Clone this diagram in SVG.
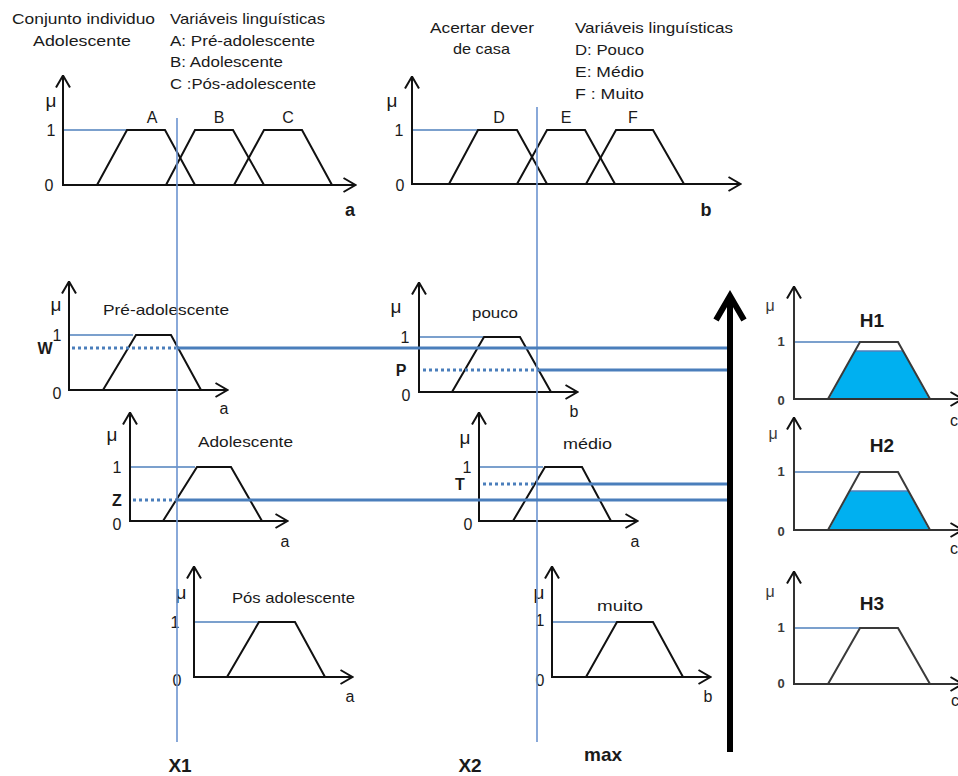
<svg xmlns="http://www.w3.org/2000/svg" width="958" height="776" viewBox="0 0 958 776">
  <style>
    text { font-family: "Liberation Sans", Arial, sans-serif; fill: #1a1a1a; }
    .ttl { font-size: 15px; }
    .tick { font-size: 16px; text-anchor: middle; }
    .mu { font-size: 19px; text-anchor: middle; }
    .bold { font-weight: bold; }
    .big { font-size: 18px; }
    .xl { font-size: 19px; }
    .hlbl { font-size: 13px; font-weight: bold; fill: #3a3a3a; text-anchor: middle; }
    .hmu { font-size: 16px; fill: #3a3a3a; text-anchor: middle; }
    .htl { font-size: 19px; font-weight: bold; text-anchor: middle; }
    .axis { fill: none; stroke: #111; stroke-width: 2; marker-start: url(#arrS); marker-end: url(#arrE); }
    .haxis { fill: none; stroke: #333; stroke-width: 2; marker-start: url(#arrS); marker-end: url(#arrE); }
    .trap { fill: none; stroke: #111; stroke-width: 2; stroke-linejoin: miter; }
    .htrap { fill: none; stroke: #3a3a3a; stroke-width: 2; }
    .one { stroke: #4F81BD; stroke-width: 1.6; }
    .xline { stroke: #6B93D0; stroke-width: 1.6; }
    .cut { stroke: #4A7EBB; stroke-width: 3; }
    .dot { stroke: #4A7EBB; stroke-width: 3; stroke-dasharray: 3 3; }
    .fill { fill: #00B0F0; stroke: none; }
    .ftop { stroke: #4F81BD; stroke-width: 1.6; }
  </style>
  <defs>
    <marker id="arrE" viewBox="0 0 14 16" refX="12.5" refY="8" markerWidth="14" markerHeight="16" markerUnits="userSpaceOnUse" orient="auto">
      <path d="M1,1 L13,8 L1,15" fill="none" stroke="#111" stroke-width="2"/>
    </marker>
    <marker id="arrS" viewBox="0 0 14 16" refX="12.5" refY="8" markerWidth="14" markerHeight="16" markerUnits="userSpaceOnUse" orient="auto-start-reverse">
      <path d="M1,1 L13,8 L1,15" fill="none" stroke="#111" stroke-width="2"/>
    </marker>
  </defs>
  <rect width="958" height="776" fill="#fff"/>

  <!-- header texts -->
  <g id="header-a">
    <text class="ttl" x="12" y="24" textLength="143" lengthAdjust="spacingAndGlyphs">Conjunto individuo</text>
    <text class="ttl" x="33" y="46" textLength="98" lengthAdjust="spacingAndGlyphs">Adolescente</text>
    <text class="ttl" x="170" y="24" textLength="155" lengthAdjust="spacingAndGlyphs">Variáveis linguísticas</text>
    <text class="ttl" x="170" y="46" textLength="145" lengthAdjust="spacingAndGlyphs">A: Pré-adolescente</text>
    <text class="ttl" x="170" y="67" textLength="113" lengthAdjust="spacingAndGlyphs">B: Adolescente</text>
    <text class="ttl" x="170" y="89" textLength="146" lengthAdjust="spacingAndGlyphs">C :Pós-adolescente</text>
  </g>
  <g id="header-b">
    <text class="ttl" x="430" y="33" textLength="104" lengthAdjust="spacingAndGlyphs">Acertar dever</text>
    <text class="ttl" x="453" y="54" textLength="57" lengthAdjust="spacingAndGlyphs">de casa</text>
    <text class="ttl" x="575" y="33" textLength="158" lengthAdjust="spacingAndGlyphs">Variáveis linguísticas</text>
    <text class="ttl" x="575" y="55" textLength="69" lengthAdjust="spacingAndGlyphs">D: Pouco</text>
    <text class="ttl" x="575" y="77" textLength="69" lengthAdjust="spacingAndGlyphs">E: Médio</text>
    <text class="ttl" x="575" y="99" textLength="69" lengthAdjust="spacingAndGlyphs">F : Muito</text>
  </g>

  <!-- overview chart: age -->
  <g id="chart-a">
    <line class="one" x1="63" y1="130" x2="127" y2="130"/>
    <path class="trap" d="M97,185 L127,130 L165,130 L195,185"/>
    <path class="trap" d="M166,185 L195,130 L233,130 L264,185"/>
    <path class="trap" d="M234,185 L264,130 L302,130 L332,185"/>
    <path class="axis" d="M63,76 L63,185 L355,185"/>
    <text class="mu" x="51" y="107">μ</text>
    <text class="tick" x="51" y="136">1</text>
    <text class="tick" x="49" y="191">0</text>
    <text class="tick" x="152" y="123">A</text>
    <text class="tick" x="219" y="123">B</text>
    <text class="tick" x="288" y="123">C</text>
    <text class="tick bold big" x="350" y="216">a</text>
  </g>

  <!-- overview chart: homework -->
  <g id="chart-b">
    <line class="one" x1="412" y1="130" x2="478" y2="130"/>
    <path class="trap" d="M449,184 L478,130 L517,130 L547,184"/>
    <path class="trap" d="M517,184 L547,130 L585,130 L615,184"/>
    <path class="trap" d="M586,184 L616,130 L653,130 L684,184"/>
    <path class="axis" d="M412,77 L412,184 L740,184"/>
    <text class="mu" x="392" y="107">μ</text>
    <text class="tick" x="399" y="136">1</text>
    <text class="tick" x="400" y="191">0</text>
    <text class="tick" x="499" y="123">D</text>
    <text class="tick" x="566" y="123">E</text>
    <text class="tick" x="633" y="123">F</text>
    <text class="tick bold big" x="706" y="216">b</text>
  </g>

  <!-- rule 1 -->
  <g id="pre-adolescente">
    <line class="one" x1="69" y1="335" x2="133" y2="335"/>
    <path class="trap" d="M103,390 L136,335 L171,335 L201,390"/>
    <path class="axis" d="M69,282 L69,390 L227,390"/>
    <text class="mu" x="56" y="311">μ</text>
    <text class="tick" x="57" y="341">1</text>
    <text class="tick bold" x="45" y="354">W</text>
    <text class="tick" x="57" y="399">0</text>
    <text class="ttl" x="103" y="315" textLength="126" lengthAdjust="spacingAndGlyphs">Pré-adolescente</text>
    <text class="tick" x="224" y="414">a</text>
  </g>
  <g id="pouco">
    <line class="one" x1="419" y1="337" x2="483" y2="337"/>
    <path class="trap" d="M452,392 L484,337 L520,337 L551,392"/>
    <path class="axis" d="M419,283 L419,392 L577,392"/>
    <text class="mu" x="396" y="313">μ</text>
    <text class="tick" x="405" y="343">1</text>
    <text class="tick bold" x="401" y="376">P</text>
    <text class="tick" x="406" y="401">0</text>
    <text class="ttl" x="472" y="318" textLength="46" lengthAdjust="spacingAndGlyphs">pouco</text>
    <text class="tick" x="574" y="417">b</text>
  </g>

  <!-- rule 2 -->
  <g id="adolescente">
    <line class="one" x1="130" y1="467" x2="195" y2="467"/>
    <path class="trap" d="M163,521 L197,467 L231,467 L262,521"/>
    <path class="axis" d="M130,413 L130,521 L287,521"/>
    <text class="mu" x="112" y="441">μ</text>
    <text class="tick" x="117" y="473">1</text>
    <text class="tick bold" x="117" y="506">Z</text>
    <text class="tick" x="117" y="530">0</text>
    <text class="ttl" x="198" y="447" textLength="95" lengthAdjust="spacingAndGlyphs">Adolescente</text>
    <text class="tick" x="285" y="547">a</text>
  </g>
  <g id="medio">
    <line class="one" x1="479" y1="467" x2="543" y2="467"/>
    <path class="trap" d="M513,521 L545,467 L582,467 L611,521"/>
    <path class="axis" d="M479,413 L479,521 L637,521"/>
    <text class="mu" x="465" y="444">μ</text>
    <text class="tick" x="467" y="473">1</text>
    <text class="tick bold" x="460" y="490">T</text>
    <text class="tick" x="468" y="530">0</text>
    <text class="ttl" x="563" y="449" textLength="49" lengthAdjust="spacingAndGlyphs">médio</text>
    <text class="tick" x="635" y="547">a</text>
  </g>

  <!-- rule 3 -->
  <g id="pos-adolescente">
    <line class="one" x1="194" y1="622" x2="259" y2="622"/>
    <path class="trap" d="M227,677 L259,622 L295,622 L325,677"/>
    <path class="axis" d="M194,567 L194,677 L352,677"/>
    <text class="mu" x="181" y="599">μ</text>
    <text class="tick" x="175" y="628">1</text>
    <text class="tick" x="177" y="686">0</text>
    <text class="ttl" x="232" y="603" textLength="123" lengthAdjust="spacingAndGlyphs">Pós adolescente</text>
    <text class="tick" x="350" y="702">a</text>
  </g>
  <g id="muito">
    <line class="one" x1="552" y1="622" x2="617" y2="622"/>
    <path class="trap" d="M586,677 L617,622 L653,622 L683,677"/>
    <path class="axis" d="M552,567 L552,677 L710,677"/>
    <text class="mu" x="539" y="599">μ</text>
    <text class="tick" x="540" y="626">1</text>
    <text class="tick" x="540" y="686">0</text>
    <text class="ttl" x="597" y="611" textLength="46" lengthAdjust="spacingAndGlyphs">muito</text>
    <text class="tick" x="708" y="702">b</text>
  </g>

  <!-- consequents -->
  <g id="H1">
    <polygon class="fill" points="829,399 855,351 903,351 929,399"/>
    <line class="ftop" x1="855" y1="351" x2="903" y2="351"/>
    <line class="one" x1="794" y1="342" x2="860" y2="342"/>
    <path class="htrap" d="M828,399 L860,342 L898,342 L930,399"/>
    <path class="haxis" d="M794,287 L794,399 L962,399"/>
    <text class="hmu" x="770" y="311">μ</text>
    <text class="hlbl" x="781" y="346">1</text>
    <text class="hlbl" x="781" y="405">0</text>
    <text class="htl" x="872" y="327">H1</text>
    <text class="tick" x="954" y="426">c</text>
  </g>
  <g id="H2">
    <polygon class="fill" points="829,530 850,491 908,491 929,530"/>
    <line class="ftop" x1="850" y1="491" x2="908" y2="491"/>
    <line class="one" x1="794" y1="472" x2="860" y2="472"/>
    <path class="htrap" d="M828,530 L860,472 L898,472 L930,530"/>
    <path class="haxis" d="M794,418 L794,530 L962,530"/>
    <text class="hmu" x="773" y="439">μ</text>
    <text class="hlbl" x="781" y="476">1</text>
    <text class="hlbl" x="781" y="536">0</text>
    <text class="htl" x="882" y="452">H2</text>
    <text class="tick" x="954" y="554">c</text>
  </g>
  <g id="H3">
    <line class="one" x1="794" y1="628" x2="860" y2="628"/>
    <path class="htrap" d="M828,684 L860,628 L898,628 L930,684"/>
    <path class="haxis" d="M794,572 L794,684 L962,684"/>
    <text class="hmu" x="770" y="597">μ</text>
    <text class="hlbl" x="781" y="632">1</text>
    <text class="hlbl" x="781" y="688">0</text>
    <text class="htl" x="872" y="610">H3</text>
    <text class="tick" x="955" y="706">c</text>
  </g>

  <!-- connectors: inputs, cuts and aggregation -->
  <g id="connectors">
    <line class="xline" x1="177" y1="118" x2="177" y2="742"/>
    <line class="xline" x1="537" y1="107" x2="537" y2="742"/>
    <line class="dot" x1="72" y1="348" x2="176" y2="348"/>
    <line class="cut" x1="177" y1="348" x2="727" y2="348"/>
    <line class="dot" x1="423" y1="370" x2="536" y2="370"/>
    <line class="cut" x1="537" y1="370" x2="727" y2="370"/>
    <line class="dot" x1="133" y1="500" x2="176" y2="500"/>
    <line class="cut" x1="177" y1="500" x2="727" y2="500"/>
    <line class="dot" x1="483" y1="484" x2="536" y2="484"/>
    <line class="cut" x1="537" y1="484" x2="727" y2="484"/>
    <line x1="730" y1="752" x2="730" y2="297" stroke="#000" stroke-width="6"/>
    <path d="M716,320 L730,296 L744,320" fill="none" stroke="#000" stroke-width="6" stroke-linejoin="miter"/>
  </g>

  <!-- bottom labels -->
  <g id="labels">
    <text class="tick bold xl" x="180" y="772">X1</text>
    <text class="tick bold xl" x="470" y="772">X2</text>
    <text class="tick bold xl" x="603" y="761">max</text>
  </g>
</svg>
